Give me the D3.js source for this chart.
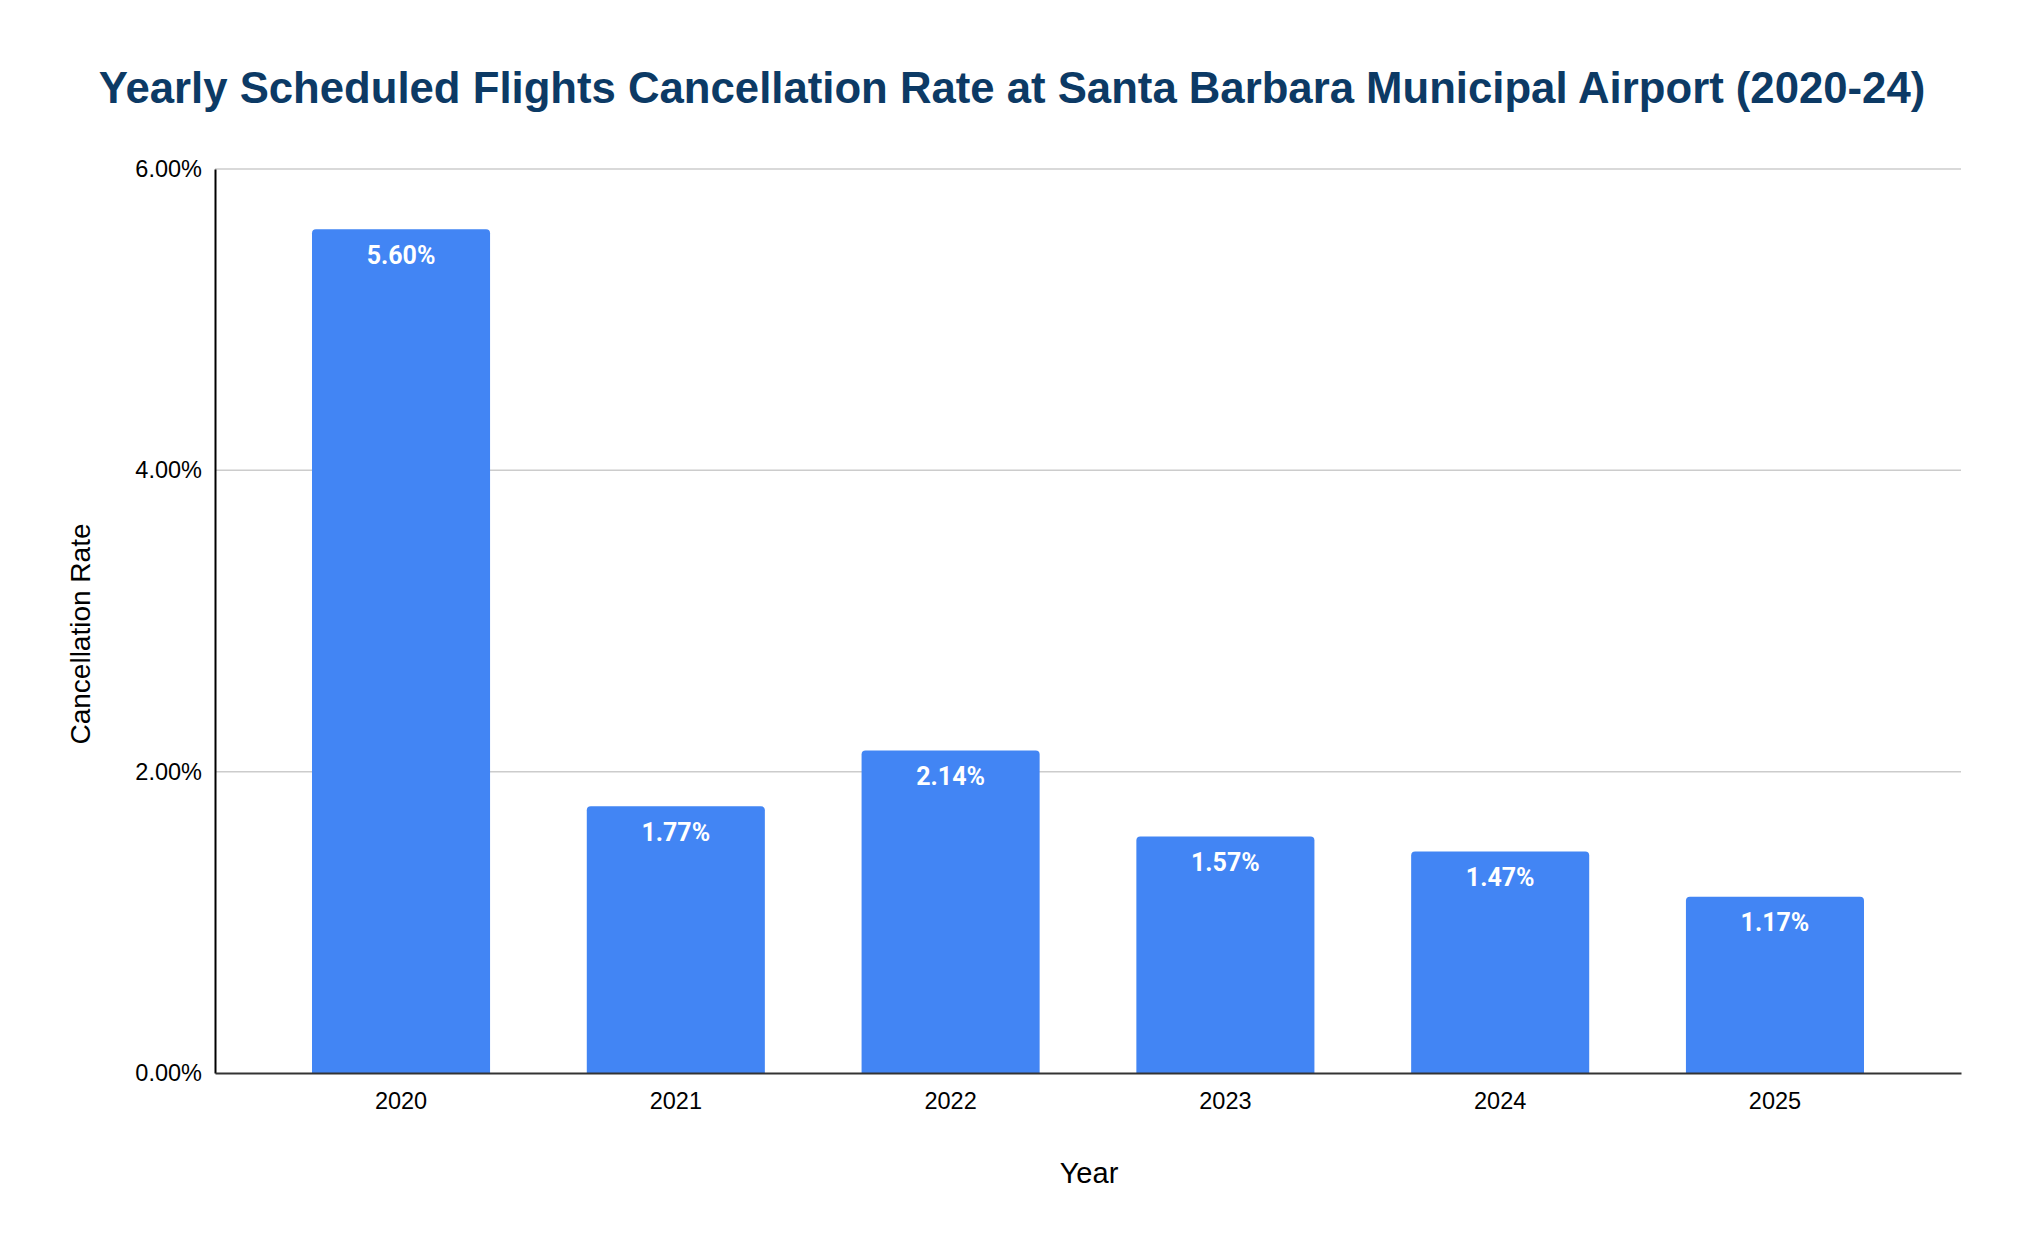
<!DOCTYPE html>
<html>
<head>
<meta charset="utf-8">
<script src="https://cdn.jsdelivr.net/npm/d3@7"></script>
<style>
  html, body { margin: 0; padding: 0; background: #fff; }
  svg { display: block; }
</style>
</head>
<body>
<svg id="chart"></svg>
<script>
const years = ["2020", "2021", "2022", "2023", "2024", "2025"]
const rates = [5.60, 1.77, 2.14, 1.57, 1.47, 1.17]
const yTicks = [0, 2, 4, 6]

const W = 2024, H = 1250
const margin = { top: 169, right: 63, bottom: 177, left: 215 }

const svg = d3.select("#chart").attr("width", W).attr("height", H)

// scales
const x = d3.scaleBand()
	.domain(years)
	.range([margin.left, W - margin.right])
	.paddingInner(0.352)
	.paddingOuter(0.353)

const y = d3.scaleLinear()
	.domain([0, 6])
	.range([H - margin.bottom, margin.top])

const fmt = d => d3.format(".2f")(d) + "%"

// title
svg.append("text")
	.attr("x", 1012)
	.attr("y", 103)
	.attr("text-anchor", "middle")
	.style("font-family", "'Liberation Sans', Arial, sans-serif")
	.style("font-weight", "bold")
	.style("font-size", "43.7px")
	.style("fill", "#0c3a65")
	.text("Yearly Scheduled Flights Cancellation Rate at Santa Barbara Municipal Airport (2020-24)")

// gridlines
svg.append("g")
	.selectAll("line")
	.data(yTicks.filter(d => d > 0))
	.join("line")
	.attr("x1", margin.left)
	.attr("x2", W - margin.right)
	.attr("y1", d => y(d))
	.attr("y2", d => y(d))
	.attr("stroke", "#cccccc")
	.attr("stroke-width", 1.5)

// bars, rounded top corners only
const r = 4
svg.append("g")
	.selectAll("path")
	.data(years)
	.join("path")
	.attr("fill", "#4285f4")
	.attr("d", (d, i) => {
		const x0 = x(d), x1 = x(d) + x.bandwidth()
		const y0 = y(0), y1 = y(rates[i])
		return `M${x0},${y0}V${y1 + r}Q${x0},${y1} ${x0 + r},${y1}H${x1 - r}Q${x1},${y1} ${x1},${y1 + r}V${y0}Z`
	})

// data labels
svg.append("g")
	.selectAll("text")
	.data(years)
	.join("text")
	.attr("x", d => x(d) + x.bandwidth() / 2)
	.attr("y", (d, i) => y(rates[i]) + 26)
	.attr("dy", "0.35em")
	.attr("text-anchor", "middle")
	.style("font-family", "Roboto, sans-serif")
	.style("font-weight", "bold")
	.style("font-size", "25px")
	.style("fill", "#ffffff")
	.text((d, i) => fmt(rates[i]))

// y axis
const yAxis = svg.append("g")
	.attr("transform", `translate(${margin.left},0)`)
	.call(d3.axisLeft(y).tickValues(yTicks).tickFormat(fmt).tickSize(0).tickPadding(13))
yAxis.select(".domain").attr("stroke", "#000").attr("stroke-width", 2)
yAxis.selectAll("text")
	.style("font-family", "'Liberation Sans', Arial, sans-serif")
	.style("font-size", "23.5px")
	.style("fill", "#000")

// x axis
const xAxis = svg.append("g")
	.attr("transform", `translate(0,${y(0)})`)
	.call(d3.axisBottom(x).tickSize(0).tickPadding(19).tickSizeOuter(0))
xAxis.select(".domain").attr("stroke", "#333").attr("stroke-width", 2)
xAxis.selectAll("text")
	.style("font-family", "'Liberation Sans', Arial, sans-serif")
	.style("font-size", "23.5px")
	.style("fill", "#000")

// axis titles
svg.append("text")
	.attr("x", 1089)
	.attr("y", 1183)
	.attr("text-anchor", "middle")
	.style("font-family", "'Liberation Sans', Arial, sans-serif")
	.style("font-size", "29px")
	.style("fill", "#000")
	.text("Year")

svg.append("text")
	.attr("transform", "translate(90,634) rotate(-90)")
	.attr("text-anchor", "middle")
	.style("font-family", "'Liberation Sans', Arial, sans-serif")
	.style("font-size", "28px")
	.style("fill", "#000")
	.text("Cancellation Rate")
</script>
</body>
</html>
